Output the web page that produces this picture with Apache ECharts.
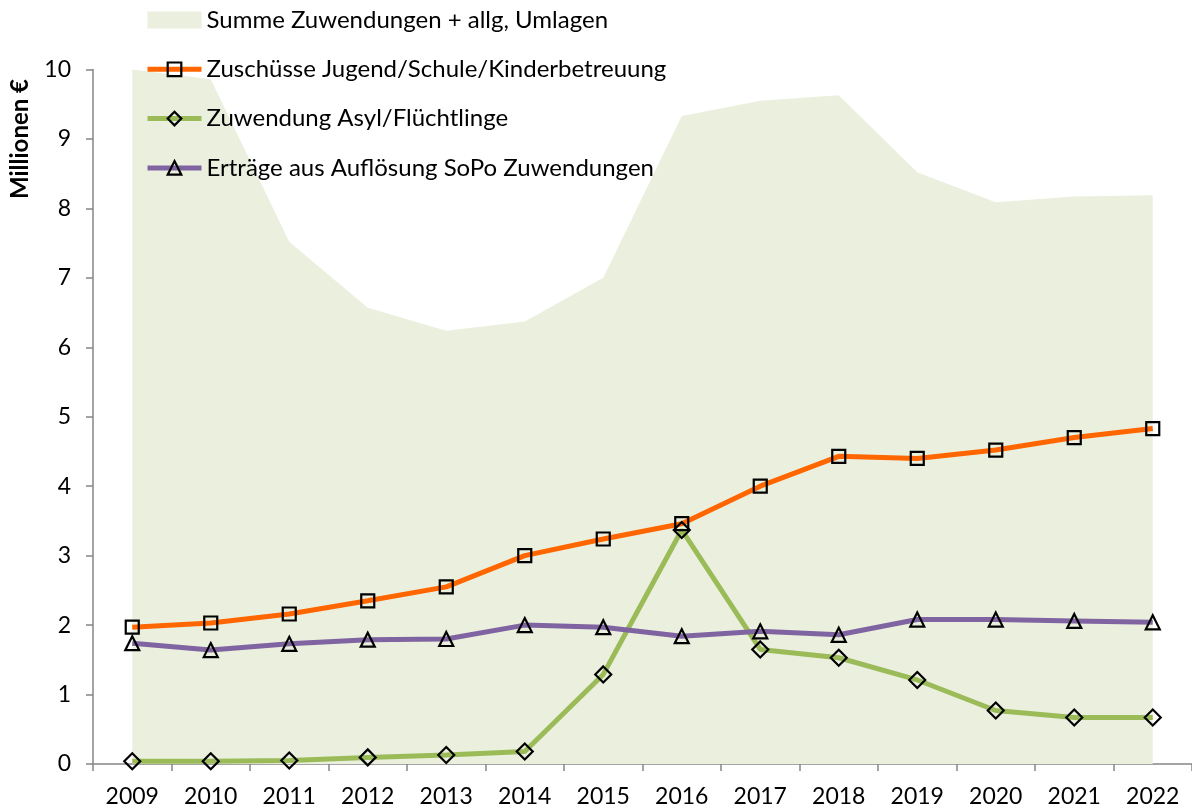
<!DOCTYPE html>
<html>
<head>
<meta charset="utf-8">
<script src="https://cdn.jsdelivr.net/npm/echarts@6/dist/echarts.min.js"></script>
<style>
    html, body { margin: 0; padding: 0; background: #fff; }
    #chart { width: 1192px; height: 809px; }
</style>
</head>
<body>
<div id="chart"></div>
<script>
    // Jahre (x-Achse)
    const years = ["2009", "2010", "2011", "2012", "2013", "2014", "2015", "2016", "2017", "2018", "2019", "2020", "2021", "2022"];

    // Werte in Mio. €
    const summeZuwendungen = [10.0, 9.86, 7.52, 6.57, 6.24, 6.37, 7.0, 9.33, 9.55, 9.63, 8.52, 8.09, 8.17, 8.19];
    const zuschuesseJugend = [1.97, 2.03, 2.16, 2.35, 2.55, 3.0, 3.24, 3.46, 4.0, 4.43, 4.40, 4.52, 4.70, 4.83];
    const zuwendungAsyl = [0.04, 0.04, 0.05, 0.095, 0.13, 0.18, 1.29, 3.37, 1.65, 1.53, 1.21, 0.77, 0.67, 0.67];
    const ertraegeSoPo = [1.74, 1.64, 1.73, 1.79, 1.80, 2.0, 1.97, 1.84, 1.91, 1.86, 2.08, 2.08, 2.06, 2.04];

    const seriesNames = [
        "Summe Zuwendungen + allg, Umlagen",
        "Zuschüsse Jugend/Schule/Kinderbetreuung",
        "Zuwendung Asyl/Flüchtlinge",
        "Erträge aus Auflösung SoPo Zuwendungen"
    ];

    const fontFamily = "Lato";
    const axisColor = "#868686";
    const markerStyle = { color: "transparent", borderColor: "#000", borderWidth: 2.2 };

    const chart = echarts.init(document.getElementById("chart"));

    // Liniendiagramm mit leeren Markern
    function lineSeries(name, data, color, symbol, size) {
        return {
            name: name,
            type: "line",
            data: data,
            symbol: symbol,
            symbolSize: size,
            showAllSymbol: true,
            lineStyle: { color: color, width: 5 },
            itemStyle: markerStyle,
            emphasis: { disabled: true }
        };
    }

    // Legendeneintrag mit dicker Linie
    function legendLine(name) {
        return { name: name, lineStyle: { width: 5 }, itemStyle: markerStyle };
    }

    const option = {
        animation: false,
        backgroundColor: "#fff",
        textStyle: { fontFamily: fontFamily },
        legend: {
            orient: "vertical",
            left: 145,
            top: 8,
            padding: 0,
            itemWidth: 54,
            itemHeight: 17,
            itemGap: 25.3,
            textStyle: { fontFamily: fontFamily, fontSize: 24, color: "#000", lineHeight: 24 },
            data: [
                { name: seriesNames[0], icon: "rect" },
                legendLine(seriesNames[1]),
                legendLine(seriesNames[2]),
                legendLine(seriesNames[3])
            ]
        },
        grid: {
            left: 93,
            right: 0,
            top: 69.5,
            bottom: 45
        },
        xAxis: {
            type: "category",
            data: years,
            boundaryGap: true,
            axisLine: { show: true, lineStyle: { color: axisColor, width: 1.5 } },
            axisTick: { show: true, length: 7, lineStyle: { color: axisColor, width: 1.5 } },
            axisLabel: { color: "#000", fontSize: 23, fontFamily: fontFamily, margin: 21 },
            splitLine: { show: false }
        },
        yAxis: {
            type: "value",
            min: 0,
            max: 10,
            interval: 1,
            axisLine: { show: true, lineStyle: { color: axisColor, width: 1.5 } },
            axisTick: { show: true, length: 7, lineStyle: { color: axisColor, width: 1.5 } },
            axisLabel: { color: "#000", fontSize: 23, fontFamily: fontFamily, margin: 22 },
            splitLine: { show: false }
        },
        graphic: [
            {
                type: "text",
                x: 20,
                y: 139,
                rotation: Math.PI / 2,
                style: {
                    text: "Millionen €",
                    font: "bold 24px Lato",
                    fill: "#000",
                    align: "center",
                    verticalAlign: "middle"
                }
            }
        ],
        series: [
            {
                name: seriesNames[0],
                type: "line",
                data: summeZuwendungen,
                symbol: "none",
                lineStyle: { width: 0 },
                itemStyle: { color: "#EBF0DE" },
                areaStyle: { color: "#EBF0DE", opacity: 1 },
                emphasis: { disabled: true }
            },
            lineSeries(seriesNames[1], zuschuesseJugend, "#FF6600", "rect", 13),
            lineSeries(seriesNames[2], zuwendungAsyl, "#9BBB59", "diamond", 16),
            lineSeries(seriesNames[3], ertraegeSoPo, "#8064A2", "triangle", 14)
        ]
    };

    chart.setOption(option);
</script>
</body>
</html>
